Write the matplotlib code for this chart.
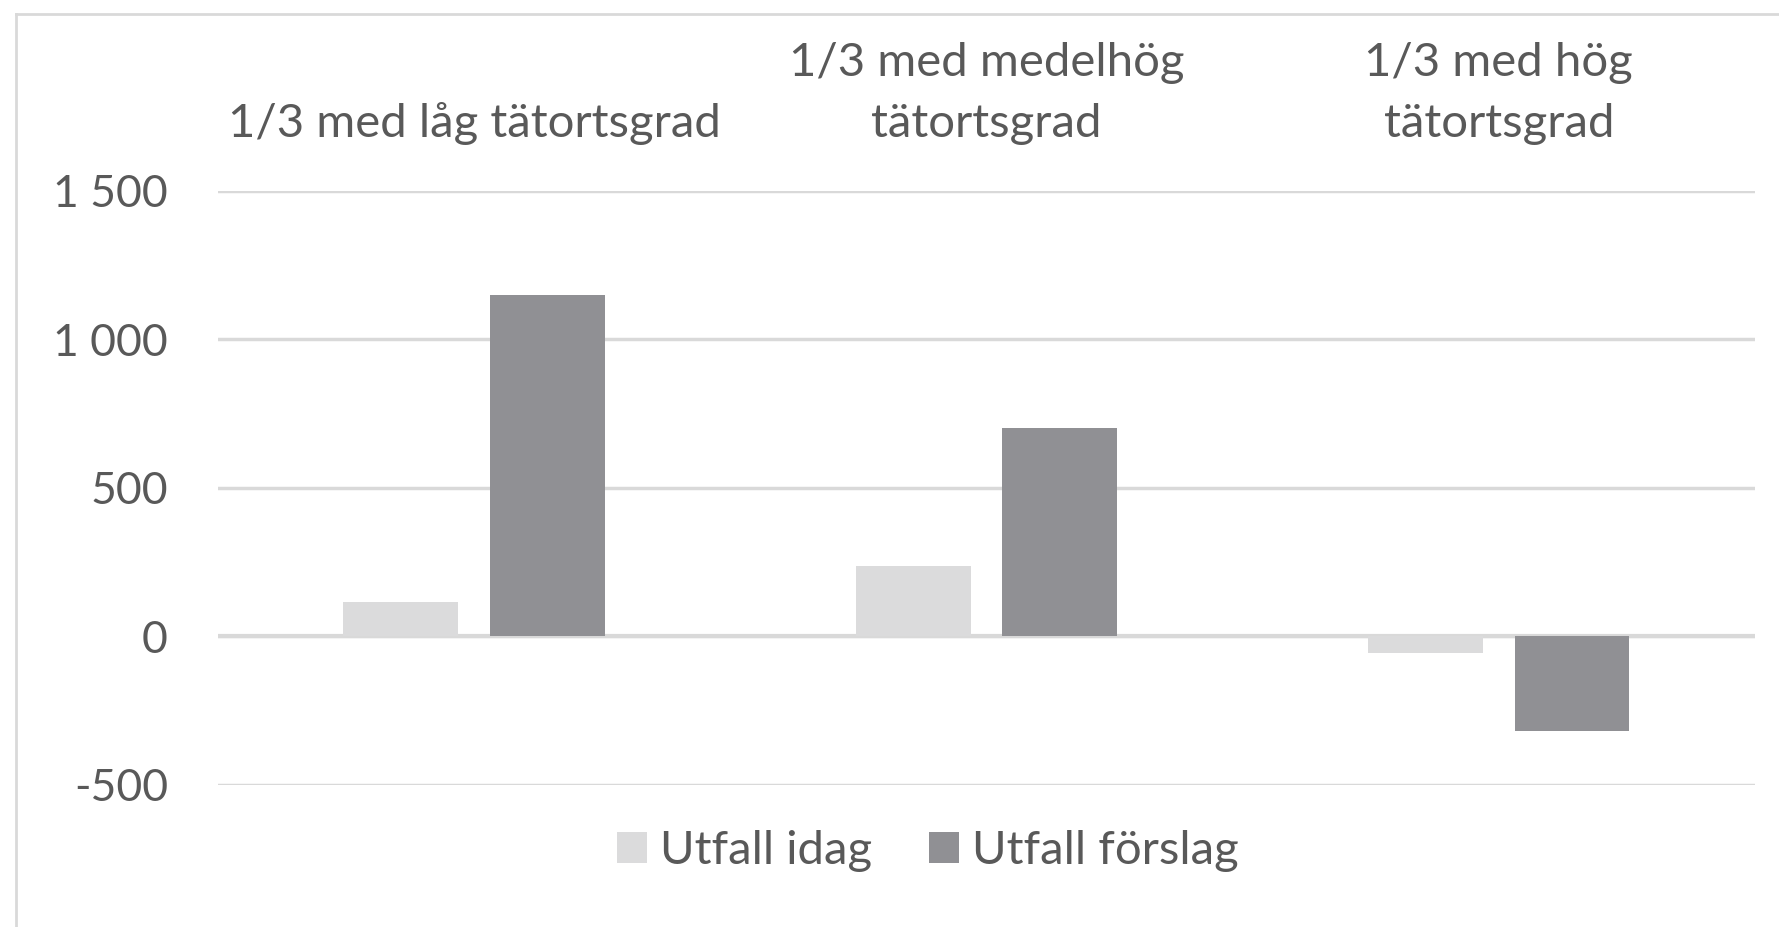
import matplotlib
matplotlib.use("Agg")
import matplotlib.pyplot as plt
from matplotlib.ticker import FuncFormatter
from matplotlib.lines import Line2D
import numpy as np

# data
categories = ["1/3 med låg tätortsgrad", "1/3 med medelhög\ntätortsgrad", "1/3 med hög\ntätortsgrad"]
utfall_idag = [115, 237, -57]
utfall_forslag = [1150, 702, -317]
series_names = ["Utfall idag", "Utfall förslag"]
yticks = [-500, 0, 500, 1000, 1500]

plt.rcParams['font.family'] = ['Lato', 'DejaVu Sans']
txt_col = '#595959'
light = '#DBDBDC'
dark = '#909094'

fig = plt.figure(figsize=(17.79, 9.27), dpi=100)
ax = fig.add_axes([0.1225, 0.1532, 0.864, 0.6412])

x = np.arange(len(categories))
w = 0.224
off = 0.143
ax.bar(x - off, utfall_idag, w, color=light, label=series_names[0], zorder=3)
ax.bar(x + off, utfall_forslag, w, color=dark, label=series_names[1], zorder=3)

ax.set_xlim(-0.5, 2.5)
ax.set_ylim(-500, 1500)
ax.set_yticks(yticks)
ax.yaxis.set_major_formatter(FuncFormatter(lambda v, p: f"{int(v):,}".replace(",", " ")))
ax.grid(axis='y', color='#D9D9D9', linewidth=2.5, zorder=0)
ax.axhline(0, color='#D9D9D9', linewidth=3, zorder=2)

# category labels on top
ax.xaxis.tick_top()
ax.set_xticks(x)
ax.set_xticklabels(categories, linespacing=1.58)
ax.tick_params(axis='x', length=0, pad=32.5, labelsize=34, labelcolor=txt_col)
ax.tick_params(axis='y', length=0, pad=36, labelsize=32, labelcolor=txt_col)
for s in ax.spines.values():
    s.set_visible(False)

leg = fig.legend(loc='center', bbox_to_anchor=(0.5216, 0.082), ncol=2, frameon=False,
                 fontsize=34, handlelength=0.63, handleheight=0.63, handletextpad=0.28,
                 columnspacing=1.2, labelcolor=txt_col)

# outer frame (left and top edges visible)
fig.add_artist(Line2D([16/1779, 16/1779], [0, 1 - 14/927], transform=fig.transFigure, color='#D9D9D9', linewidth=2))
fig.add_artist(Line2D([16/1779, 1], [1 - 14/927, 1 - 14/927], transform=fig.transFigure, color='#D9D9D9', linewidth=2))

fig.savefig("out.png", dpi=100)
